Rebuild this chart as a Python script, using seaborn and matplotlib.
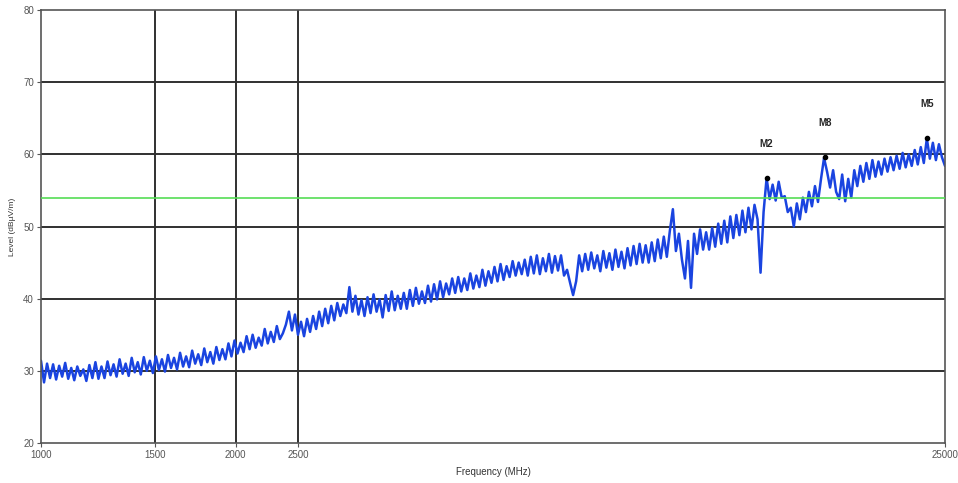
import numpy as np
import pandas as pd
import matplotlib
matplotlib.use("Agg")
import matplotlib.pyplot as plt
import seaborn as sns

# measured trace, 300 sweep points from 1000 to 25000 MHz (log spaced)
level = [
    31.4, 28.4, 31.0, 29.0, 30.9, 28.8, 30.7, 29.2, 31.1, 28.9, 30.4, 28.7, 30.6, 29.3, 30.2, 28.6, 30.8, 29.0, 31.2, 28.9,
    30.6, 29.0, 31.3, 29.4, 30.9, 29.2, 31.6, 29.6, 31.0, 29.3, 31.8, 29.8, 31.2, 29.5, 31.9, 30.0, 31.4, 29.7, 32.0, 30.1,
    31.6, 29.9, 32.2, 30.4, 31.8, 30.2, 32.5, 30.6, 32.0, 30.5, 32.8, 31.0, 32.3, 30.8, 33.1, 31.2, 32.6, 31.0, 33.3, 31.5,
    33.0, 31.6, 33.8, 32.0, 34.2, 32.4, 33.9, 32.6, 34.8, 33.0, 35.0, 33.2, 34.6, 33.5, 35.8, 33.8, 35.4, 34.0, 36.2, 34.4,
    35.2, 36.4, 38.2, 35.6, 37.8, 35.0, 36.8, 34.8, 37.2, 35.4, 37.6, 35.8, 38.2, 36.2, 38.6, 36.6, 39.0, 37.0, 39.4, 37.6,
    39.2, 38.0, 41.6, 38.2, 40.4, 37.8, 39.8, 37.6, 40.2, 38.0, 40.6, 38.2, 39.9, 37.4, 40.5, 38.3, 41.0, 38.4, 40.4, 38.6,
    40.8, 38.6, 41.2, 39.0, 41.5, 39.3, 41.0, 39.4, 41.8, 39.6, 42.0, 39.9, 42.4, 40.2, 42.1, 40.6, 42.8, 40.8, 43.0, 41.0,
    42.8, 41.2, 43.5, 41.4, 43.2, 41.6, 44.0, 41.8, 43.8, 42.2, 44.4, 42.4, 44.8, 42.6, 44.5, 43.0, 45.2, 43.2, 45.0, 43.4,
    45.4, 43.2, 45.8, 43.5, 46.0, 43.4, 45.6, 43.8, 46.2, 43.6, 45.9, 43.9, 46.0, 43.2, 44.0, 42.2, 40.5, 42.4, 46.0, 43.8,
    46.2, 44.0, 46.4, 44.2, 46.0, 43.8, 46.6, 44.3, 46.3, 44.0, 46.8, 44.4, 46.5, 44.2, 47.0, 44.6, 47.3, 44.8, 47.6, 45.0,
    47.4, 45.0, 47.8, 45.2, 48.2, 45.6, 48.6, 45.8, 49.4, 52.4, 46.6, 49.0, 45.4, 42.8, 48.0, 41.5, 49.0, 46.2, 49.6, 46.8,
    49.2, 46.8, 49.8, 47.2, 50.4, 47.6, 50.8, 47.8, 51.4, 48.4, 51.6, 48.8, 52.2, 49.2, 52.6, 49.6, 53.0, 51.0, 43.6, 52.0,
    56.7, 53.8, 55.8, 53.6, 56.2, 54.0, 54.2, 52.0, 52.6, 50.0, 53.2, 51.0, 54.0, 52.0, 54.8, 52.8, 55.6, 53.4, 56.6, 59.5,
    57.6, 55.4, 57.8, 54.8, 53.8, 57.2, 53.5, 56.6, 54.0, 57.8, 55.6, 58.4, 56.2, 58.8, 56.6, 59.2, 56.9, 59.0, 57.2, 59.4,
    57.6, 59.6, 57.8, 59.8, 58.0, 60.2, 58.2, 60.0, 58.4, 60.6, 58.6, 61.0, 58.8, 62.2, 59.4, 61.6, 59.2, 61.4, 59.6, 58.4,
]
freq = np.geomspace(1000, 25000, len(level))

limit = 54

marker_names = ["M2", "M8", "M5"]
marker_freq = [13250, 16300, 23440]
marker_level = [56.7, 59.6, 62.2]

x_ticks = [1000, 1500, 2000, 2500, 25000]
y_ticks = [20, 30, 40, 50, 60, 70, 80]

df = pd.DataFrame({"Frequency": freq, "Level": level})

sns.set_style("white")
plt.rcParams["font.family"] = ["Liberation Sans", "DejaVu Sans"]

fig = plt.figure(figsize=(9.58, 4.83), dpi=100)
ax = fig.add_axes([0.0428, 0.0828, 0.9436, 0.8965])

sns.lineplot(data=df, x="Frequency", y="Level", ax=ax, color="#1a44e0",
             linewidth=1.8, estimator=None, sort=False)
ax.axhline(limit, color="#55dd55", linewidth=1.2, zorder=3)

ax.set_xscale("log")
ax.set_xlim(1000, 25000)
ax.set_ylim(20, 80)

# grid lines like the receiver software
for y in y_ticks[1:-1]:
    ax.axhline(y, color="#303030", linewidth=1.4, zorder=1)
for x in x_ticks[1:-1]:
    ax.axvline(x, color="#303030", linewidth=1.4, zorder=1)

ax.set_xticks(x_ticks)
ax.set_xticklabels([str(t) for t in x_ticks])
ax.xaxis.set_minor_locator(matplotlib.ticker.NullLocator())
ax.set_yticks(y_ticks)
ax.tick_params(axis="both", labelsize=7, labelcolor="#555555", length=3,
               width=0.8, color="#555555", left=True, bottom=True, pad=2)

for s in ax.spines.values():
    s.set_color("#555555")
    s.set_linewidth(1.2)

# markers
ax.scatter(marker_freq, marker_level, s=9, color="black", zorder=5)
for name, f, l in zip(marker_names, marker_freq, marker_level):
    ax.annotate(name, (f, l), xytext=(0, 21), textcoords="offset points",
                ha="center", va="bottom", fontsize=7, fontweight="bold")

ax.set_xlabel("Frequency (MHz)", fontsize=7, color="#333333", labelpad=5)
ax.set_ylabel("Level (dBµV/m)", fontsize=6, color="#333333", labelpad=5)

plt.savefig("out.png", dpi=100)
